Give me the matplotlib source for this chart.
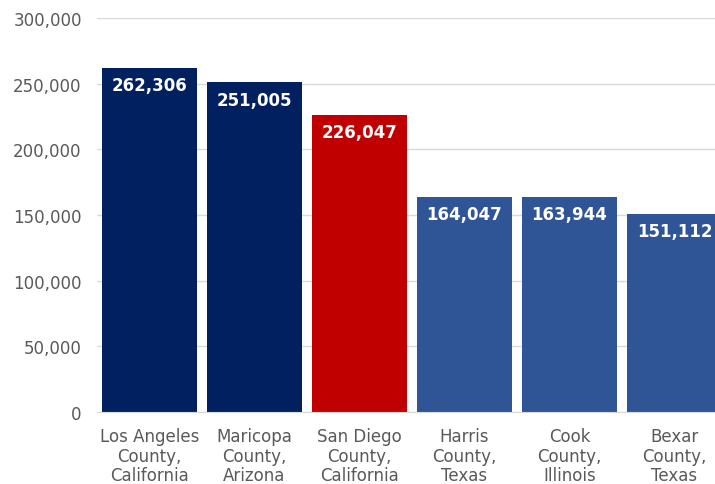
import matplotlib
matplotlib.use("Agg")
import matplotlib.pyplot as plt
from matplotlib.ticker import FuncFormatter

counties = [
    "Los Angeles\nCounty,\nCalifornia",
    "Maricopa\nCounty,\nArizona",
    "San Diego\nCounty,\nCalifornia",
    "Harris\nCounty,\nTexas",
    "Cook\nCounty,\nIllinois",
    "Bexar\nCounty,\nTexas",
]
values = [262306, 251005, 226047, 164047, 163944, 151112]
colors = ["#002060", "#002060", "#C00000", "#2F5597", "#2F5597", "#2F5597"]

plt.rcParams["font.family"] = ["DejaVu Sans"]

fig = plt.figure(figsize=(7.15, 4.85), dpi=100)
ax = fig.add_axes([97 / 715, 72 / 485, 630 / 715, 394 / 485])

x = range(len(values))
bars = ax.bar(x, values, width=95 / 105, color=colors, zorder=2)

for b, v in zip(bars, values):
    ax.annotate(f"{v:,}", (b.get_x() + b.get_width() / 2, v),
                xytext=(0, -6), textcoords="offset points",
                ha="center", va="top", color="white",
                fontsize=12, fontweight="bold", zorder=3)

ax.set_xlim(-0.5, len(values) - 0.5)
ax.set_ylim(0, 300000)
ax.set_yticks(range(0, 300001, 50000))
ax.yaxis.set_major_formatter(FuncFormatter(lambda v, p: f"{int(v):,}"))
ax.set_xticks(list(x))
ax.set_xticklabels(counties)

ax.grid(axis="y", color="#D9D9D9", linewidth=1, zorder=0)
for s in ["top", "right", "left"]:
    ax.spines[s].set_visible(False)
ax.spines["bottom"].set_color("#D9D9D9")
ax.tick_params(axis="both", length=0, labelsize=12, colors="#595959")
ax.tick_params(axis="x", pad=11)
ax.tick_params(axis="y", pad=11)
for t in ax.get_xticklabels():
    t.set_linespacing(1.1)

fig.savefig("out.png", dpi=100)
